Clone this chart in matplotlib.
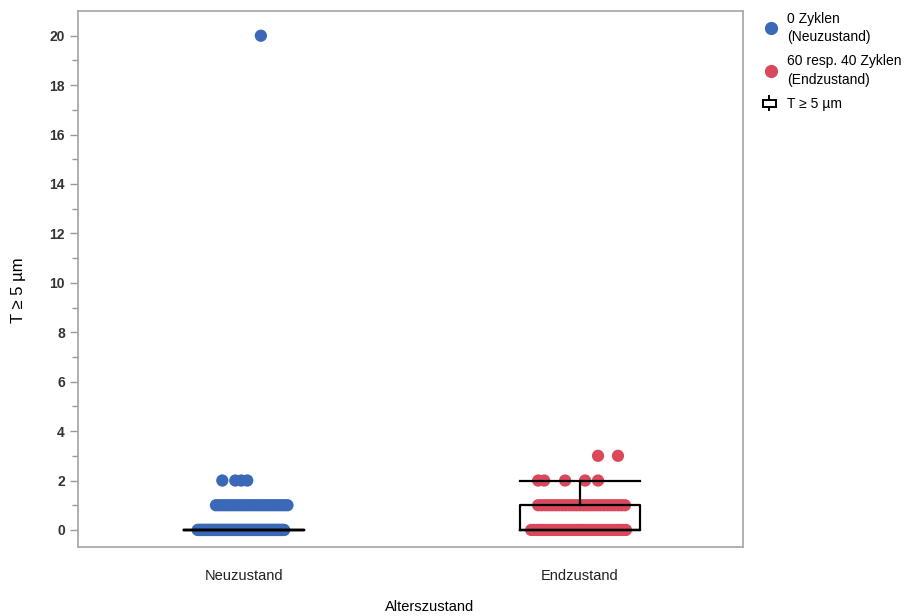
import numpy as np
import matplotlib.pyplot as plt
from matplotlib.legend_handler import HandlerBase
from matplotlib.lines import Line2D
from matplotlib.patches import Rectangle

plt.rcParams['font.family'] = ['Liberation Sans', 'DejaVu Sans']

# Data: counts per value level
categories = ["Neuzustand", "Endzustand"]
blue_levels = [0, 1, 2, 20]
blue_counts = [95, 24, 4, 1]
red_levels = [0, 1, 2, 3]
red_counts = [34, 26, 5, 2]

# jitter spans (min, max offset) per level for the dense rows,
# explicit offsets for the sparse rows
blue_spread = {0: (-0.14, 0.12), 1: (-0.085, 0.13), 2: [-0.066, -0.027, -0.009, 0.009], 20: [0.05]}
red_spread = {0: (-0.147, 0.138), 1: (-0.126, 0.135), 2: [-0.126, -0.108, -0.045, 0.015, 0.054], 3: [0.054, 0.114]}

blue_c = "#3a69b7"
red_c = "#d9495b"


def jittered(levels, counts, spread, center):
    xs, ys = [], []
    for lv, n in zip(levels, counts):
        sp = spread[lv]
        if isinstance(sp, tuple):
            off = np.linspace(sp[0], sp[1], n)
        else:
            off = np.array(sp)
        xs.extend(center + off)
        ys.extend([lv] * n)
    return np.array(xs), np.array(ys)


fig = plt.figure(figsize=(9.09, 6.16), dpi=100)
ax = fig.add_axes([78 / 909, 1 - 547 / 616, 665 / 909, 536 / 616])

bx, by = jittered(blue_levels, blue_counts, blue_spread, 0)
rx, ry = jittered(red_levels, red_counts, red_spread, 1.01)
ax.scatter(bx, by, s=78, color=blue_c, edgecolors="none", zorder=2)
ax.scatter(rx, ry, s=78, color=red_c, edgecolors="none", zorder=2)

blue_vals = np.repeat(blue_levels, blue_counts)
red_vals = np.repeat(red_levels, red_counts)
lw = 1.6
ax.boxplot([blue_vals, red_vals], positions=[0, 1.01], widths=0.36,
           showfliers=False, whis=1.5, capwidths=0.36,
           boxprops=dict(color="black", linewidth=lw),
           whiskerprops=dict(color="black", linewidth=lw),
           capprops=dict(color="black", linewidth=lw),
           medianprops=dict(color="black", linewidth=lw),
           zorder=3)

ax.set_xlim(-0.5, 1.5)
ax.set_ylim(-0.69, 21.0)
ax.set_xticks([0, 1.01])
ax.set_xticklabels(categories, fontsize=10.5, color="#222222")
ax.tick_params(axis="x", length=0, pad=16)
ax.set_yticks(np.arange(0, 21, 2))
ax.set_yticks(np.arange(0, 21, 1), minor=True)
ax.tick_params(axis="y", which="major", length=6, color="#999999", labelsize=10,
               labelcolor="#333333", width=1)
ax.tick_params(axis="y", which="minor", length=4, color="#999999", width=1)
for lab in ax.get_yticklabels():
    lab.set_fontweight("bold")
for s in ax.spines.values():
    s.set_color("#aaaaaa")
    s.set_linewidth(1.3)

fig.text(430 / 909, 1 - 607 / 616, "Alterszustand", ha="center", va="center", fontsize=10.5)
fig.text(18 / 909, 1 - 290 / 616, "T \u2265 5 \u00b5m", ha="center", va="center",
         rotation=90, fontsize=12)


class BoxHandler(HandlerBase):
    def create_artists(self, legend, orig_handle, xd, yd, width, height, fontsize, trans):
        cx = xd + width * 0.4
        cy = yd + height / 2
        w = 9.5
        h = 5.0
        r = Rectangle((cx - w / 2, cy - h / 2), w, h, facecolor="white",
                      edgecolor="black", linewidth=1.4, transform=trans)
        l1 = Line2D([cx, cx], [cy + h / 2, cy + h / 2 + 2.5], color="black", lw=1.4, transform=trans)
        l2 = Line2D([cx, cx], [cy - h / 2 - 2.5, cy - h / 2], color="black", lw=1.4, transform=trans)
        return [r, l1, l2]


handles = [
    Line2D([], [], marker="o", linestyle="none", color=blue_c, markersize=8.5),
    Line2D([], [], marker="o", linestyle="none", color=red_c, markersize=8.5),
    Rectangle((0, 0), 1, 1),
]
labels = ["0 Zyklen\n(Neuzustand)", "60 resp. 40 Zyklen\n(Endzustand)", "T \u2265 5 \u00b5m"]
leg = fig.legend(handles, labels, loc="upper left", bbox_to_anchor=(750 / 909, 1 + 1 / 616),
                 frameon=False, fontsize=10, handlelength=1.2, handletextpad=0.55,
                 labelspacing=0.75, handler_map={Rectangle: BoxHandler()})
for t in leg.get_texts():
    t.set_linespacing(1.4)

fig.savefig("out.png", dpi=100)
